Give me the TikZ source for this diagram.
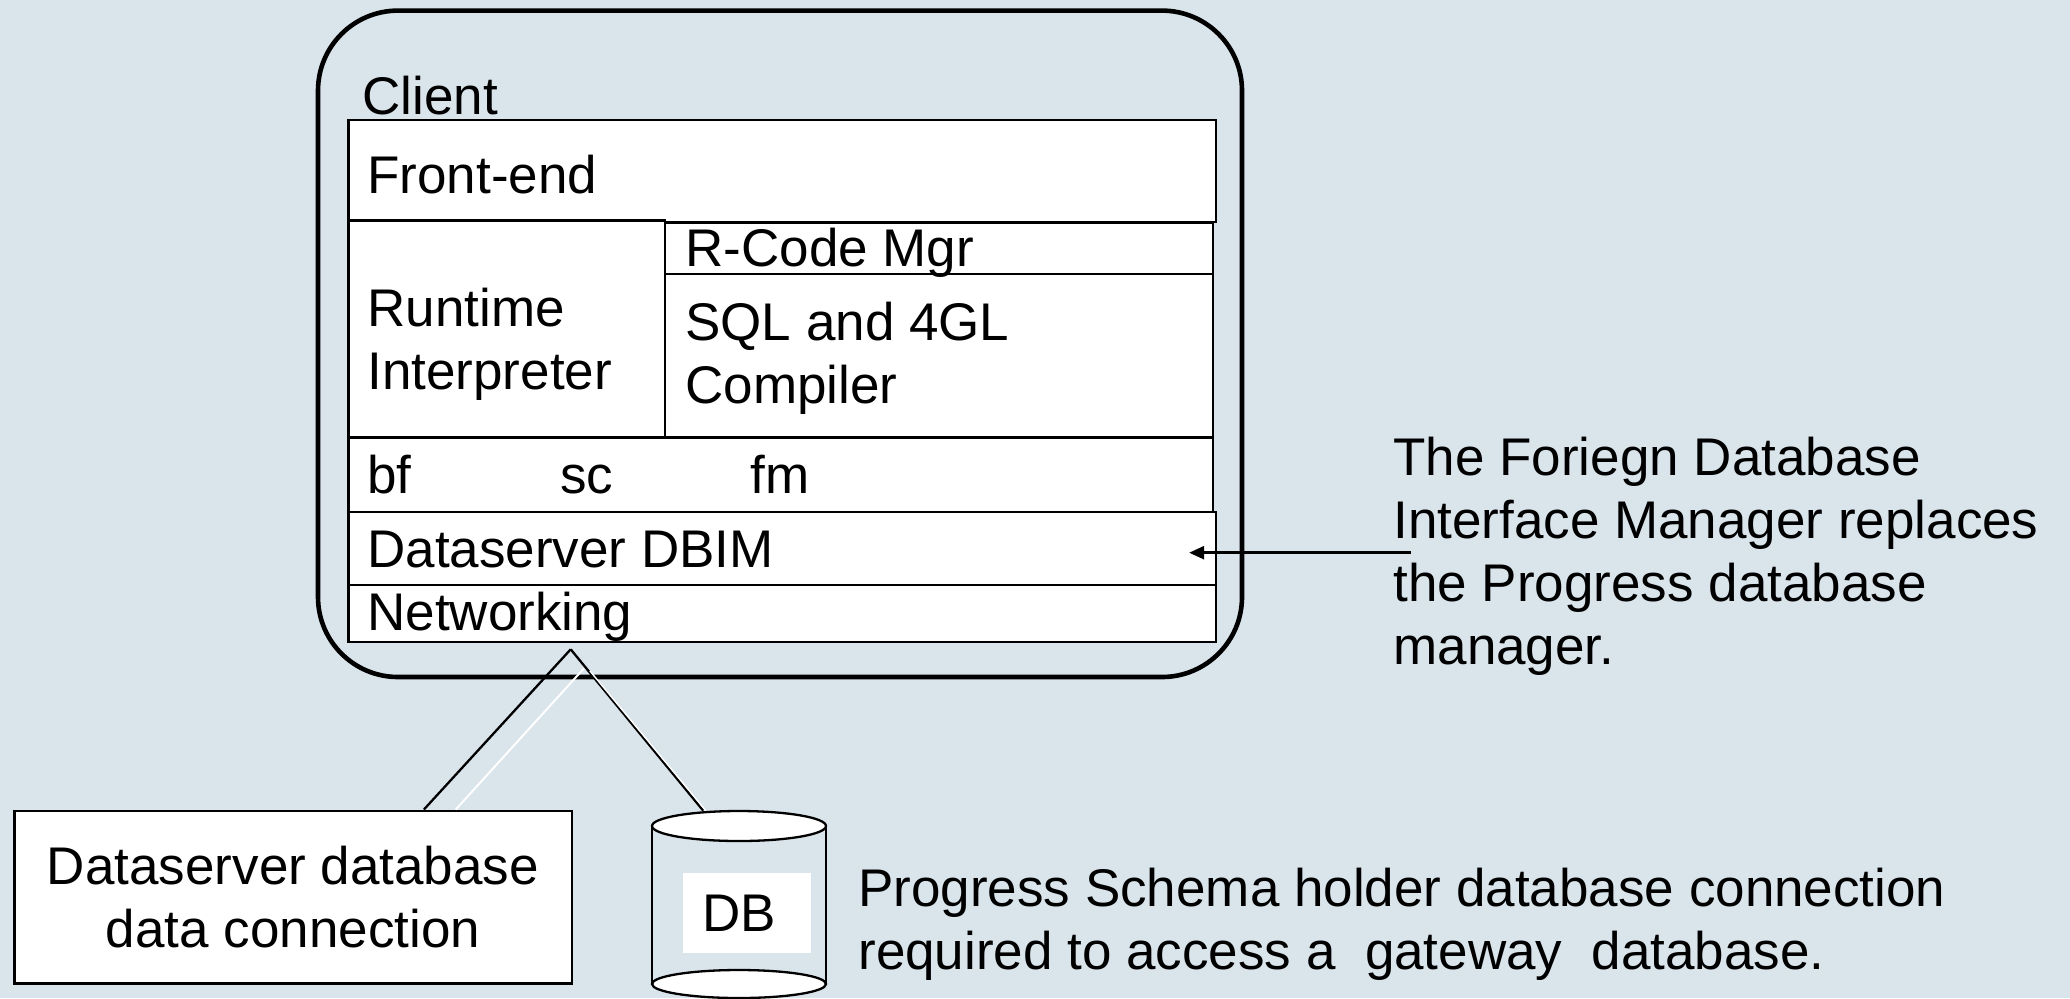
\documentclass[tikz,border=0pt]{standalone}
\usepackage{fontspec}
\setmainfont{Liberation Sans}
\usetikzlibrary{arrows.meta,fit,calc}
\definecolor{bg}{RGB}{218,228,235}

\begin{document}
\begin{tikzpicture}[x=0.5pt,y=-0.5pt,
  layer/.style={draw=black, line width=1.15pt, fill=white, inner sep=0pt},
  txt/.style={inner sep=0pt, font=\fontsize{26.5}{31.5}\selectfont},
  lbl/.style={txt, anchor=base west},
  link/.style={draw=black, line width=1.15pt},
  glint/.style={draw=white, line width=1pt}]

% canvas
\fill[bg] (0,0) rectangle (2070,998);
\useasboundingbox (0,0) rectangle (2070,998);

% client process frame
\node (client) [draw=black, line width=2.3pt, rounded corners=40pt, inner sep=0pt,
  fit={(318,10.6) (1242,677)}] {};
\node (clientlbl) [lbl] at (362,114) {Client};

% stack of layers inside the client
\node (front)   [layer, fit={(348.5,120) (1216,222)}] {};
\node (runtime) [layer, fit={(348.5,220.5) (664.7,436.7)}] {};
\node (rcode)   [layer, fit={(664.7,223) (1213,274)}] {};
\node (sql)     [layer, fit={(664.7,274) (1213,436.7)}] {};
\node (bfsc)    [layer, fit={(348.5,437.7) (1213,511.7)}] {};
\node (dbim)    [layer, fit={(348.5,512) (1216,585)}] {};
\node (net)     [layer, fit={(348.5,585) (1216,641.7)}] {};

% multi-line labels are placed by the baseline of their last line
\node (frontlbl)   [lbl] at (367,193) {Front-end};
\node (runtimelbl) [lbl, align=left] at (367,389) {Runtime\\Interpreter};
\node (rcodelbl)   [lbl] at (685,266) {R-Code Mgr};
\node (sqllbl)     [lbl, align=left] at (685,403) {SQL and 4GL\\Compiler};
\node (bflbl)      [lbl] at (367,493) {bf};
\node (sclbl)      [lbl] at (560,493) {sc};
\node (fmlbl)      [lbl] at (750,493) {fm};
\node (dbimlbl)    [lbl] at (367,567) {Dataserver DBIM};
\node (netlbl)     [lbl] at (367,630) {Networking};

% data connection box
\node (dsbox) [layer, fit={(14.5,810.7) (571.7,983.6)}] {};
\node (dslbl) [txt, anchor=base, align=center] at (293,947) {Dataserver database\\data connection};

% schema holder database (cylinder)
\node (db) [inner sep=0pt, fit={(652,811) (826,998)}] {};
\draw[line width=1.15pt] (652,826) -- (652,984) (826,826) -- (826,984);
\draw[line width=1.15pt, fill=white] (739,984) ellipse [x radius=43.5pt, y radius=7pt];
\draw[line width=1.15pt, fill=white] (739,826) ellipse [x radius=43.5pt, y radius=7.5pt];
\node (dbpad) [fill=white, inner sep=0pt, minimum width=64pt, minimum height=40pt] at (747,913) {};
\node (dblbl) [txt] at (739,913) {DB};

% connections from the networking layer
\coordinate (apex) at (570.7,649.3);
\path[link] (apex) -- ($(dsbox.north west)!0.7337!(dsbox.north east)$);
\path[link] (apex) -- ($(db.north west)!0.295!(db.north east)$);
\coordinate (gA) at (584,668.3);
\coordinate (gB) at (590,671);
\path[glint] (gA) -- ($(dsbox.north west)!0.7906!(dsbox.north east)$);
\path[glint, line width=0.7pt] (gB) -- ($(db.north west)!0.31!(db.north east)$);

% annotation for the DBIM layer
\node (note) [lbl, align=left] at (1393,664) {The Foriegn Database\\Interface Manager replaces\\the Progress database\\manager.};
\coordinate (notefoot) at (1411,552.7);
\draw[line width=1.3pt, -{Triangle[length=7.5pt,width=6.5pt]}] (notefoot) -- ($(dbim.east)+(-28,4.2)$);

% annotation for the schema holder
\node (schema) [lbl, align=left] at (858,969) {Progress Schema holder database connection\\required to access a\ \ gateway\ \ database.};

\end{tikzpicture}
\end{document}
